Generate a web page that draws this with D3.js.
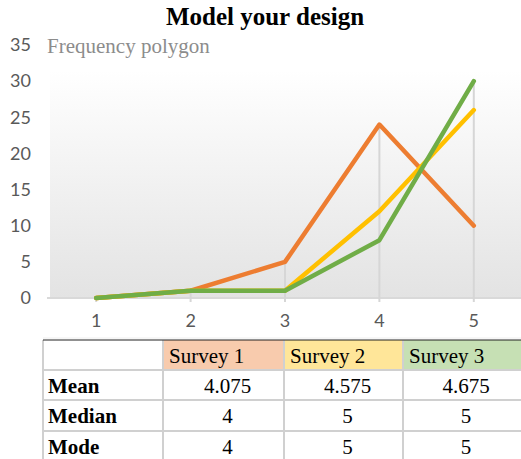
<!DOCTYPE html>
<html lang="en">
    <head>
        <meta charset="utf-8">
        <title>Model your design</title>
        <script src="https://d3js.org/d3.v7.min.js"></script>
        <style type="text/css">
            body { margin: 0; background: #fff; }
            .tick text { font-family: Lato, sans-serif; font-size: 18px; fill: #595959; }
        </style>
    </head>
    <body>
        <script type="text/javascript">

            //Data
            const ratings = ["1", "2", "3", "4", "5"];
            const survey1 = [0, 1, 5, 24, 10];
            const survey2 = [0, 1, 1, 12, 26];
            const survey3 = [0, 1, 1, 8, 30];
            const seriesNames = ["Survey 1", "Survey 2", "Survey 3"];
            const yTicks = [0, 5, 10, 15, 20, 25, 30, 35];
            const statNames = ["Mean", "Median", "Mode"];
            const means = ["4.075", "4.575", "4.675"];
            const medians = ["4", "5", "5"];
            const modes = ["4", "5", "5"];

            const w = 521;
            const h = 459;
            const lineColors = ["#ED7D31", "#FFC000", "#70AD47"];
            const headFill = ["#F8CBAD", "#FFE699", "#C6E0B4"];

            const svg = d3.select("body")
                    .append("svg")
                    .attr("width", w)
                    .attr("height", h);

            //scales
            const x = d3.scaleBand().domain(ratings).range([49, 521]);
            const y = d3.scaleLinear().domain([0, 35]).range([298, 45]);

            //plot background gradient
            const grad = svg.append("defs").append("linearGradient")
                    .attr("id", "bg").attr("x1", 0).attr("y1", 0).attr("x2", 0).attr("y2", 1);
            grad.append("stop").attr("offset", "0%").attr("stop-color", "#ffffff");
            grad.append("stop").attr("offset", "100%").attr("stop-color", "#e3e3e3");

            svg.append("rect")
                .attr("x", 50).attr("y", 70)
                .attr("width", 471).attr("height", y(0) - 70)
                .attr("fill", "url(#bg)");

            const font = "'Liberation Serif', 'Times New Roman', serif";

            //title
            svg.append("text")
                .attr("x", 265).attr("y", 25)
                .attr("text-anchor", "middle")
                .style("font-family", font)
                .style("font-weight", "bold")
                .style("font-size", "25px")
                .text("Model your design");

            svg.append("text")
                .attr("x", 47).attr("y", 53)
                .style("font-family", font)
                .style("font-size", "21px")
                .style("fill", "#8c8c8c")
                .text("Frequency polygon");

            //y axis
            const yAxis = svg.append("g")
                .attr("transform", "translate(31,0)")
                .call(d3.axisLeft(y).tickValues(yTicks).tickSize(0).tickPadding(0));
            yAxis.select(".domain").remove();

            //x axis
            const xAxis = svg.append("g")
                .attr("transform", "translate(0," + y(0) + ")")
                .call(d3.axisBottom(x).tickSize(0).tickPadding(16));
            xAxis.select(".domain").remove();
            svg.append("line")
                .attr("x1", 47).attr("x2", 521)
                .attr("y1", y(0)).attr("y2", y(0))
                .attr("stroke", "#d9d9d9").attr("stroke-width", 2);

            //drop lines from highest value
            const allSeries = [survey1, survey2, survey3];
            svg.selectAll("line.drop")
                .data(ratings)
                .enter()
                .append("line")
                .attr("class", "drop")
                .attr("x1", d => x(d) + x.bandwidth() / 2)
                .attr("x2", d => x(d) + x.bandwidth() / 2)
                .attr("y1", (d, i) => y(d3.max(allSeries, s => s[i])))
                .attr("y2", y(0) + 4)
                .attr("stroke", "#d6d6d6")
                .attr("stroke-width", 2);

            //lines
            const line = d3.line()
                .x((d, i) => x(ratings[i]) + x.bandwidth() / 2)
                .y(d => y(d));

            svg.selectAll("path.series")
                .data(allSeries)
                .enter()
                .append("path")
                .attr("class", "series")
                .attr("fill", "none")
                .attr("stroke", (d, i) => lineColors[i])
                .attr("stroke-width", 4.5)
                .attr("stroke-linecap", "round")
                .attr("stroke-linejoin", "round")
                .attr("d", line);

            //table
            const colX = [43, 163, 284, 403, 521];
            const rowY = [340, 370, 400, 431, 462];
            const rows = [means, medians, modes];
            const tbl = svg.append("g");

            //header fills
            tbl.selectAll("rect.head")
                .data(seriesNames)
                .enter()
                .append("rect")
                .attr("x", (d, i) => colX[i + 1])
                .attr("y", rowY[0])
                .attr("width", (d, i) => colX[i + 2] - colX[i + 1])
                .attr("height", rowY[1] - rowY[0])
                .attr("fill", (d, i) => headFill[i]);

            tbl.selectAll("text.head")
                .data(seriesNames)
                .enter()
                .append("text")
                .attr("x", (d, i) => colX[i + 1] + 6)
                .attr("y", rowY[0] + 23)
                .style("font-family", font)
                .style("font-size", "21px")
                .text(d => d);

            //row labels
            tbl.selectAll("text.stat")
                .data(statNames)
                .enter()
                .append("text")
                .attr("x", colX[0] + 5)
                .attr("y", (d, i) => rowY[i + 1] + 23)
                .style("font-family", font)
                .style("font-weight", "bold")
                .style("font-size", "21px")
                .text(d => d);

            //values
            rows.forEach((r, ri) => {
                tbl.selectAll("text.v" + ri)
                    .data(r)
                    .enter()
                    .append("text")
                    .attr("x", (d, i) => (colX[i + 1] + colX[i + 2]) / 2 + 4)
                    .attr("y", rowY[ri + 1] + 23)
                    .attr("text-anchor", "middle")
                    .style("font-family", font)
                    .style("font-size", "21px")
                    .text(d => d);
            });

            //grid lines
            rowY.slice(1, 4).forEach(yy => {
                tbl.append("line")
                    .attr("x1", colX[0]).attr("x2", 521)
                    .attr("y1", yy).attr("y2", yy)
                    .attr("stroke", "#d0d0d0").attr("stroke-width", 2);
            });
            colX.slice(0, 4).forEach(xx => {
                tbl.append("line")
                    .attr("x1", xx).attr("x2", xx)
                    .attr("y1", rowY[0]).attr("y2", h)
                    .attr("stroke", "#d0d0d0").attr("stroke-width", 2);
            });
            tbl.append("line")
                .attr("x1", colX[0]).attr("x2", 521)
                .attr("y1", rowY[0]).attr("y2", rowY[0])
                .attr("stroke", "#222").attr("stroke-width", 1);
            svg.append("line")
                .attr("x1", 43).attr("x2", 521)
                .attr("y1", 338).attr("y2", 338)
                .attr("stroke", "#eeeeee").attr("stroke-width", 1);

        </script>
    </body>
</html>
